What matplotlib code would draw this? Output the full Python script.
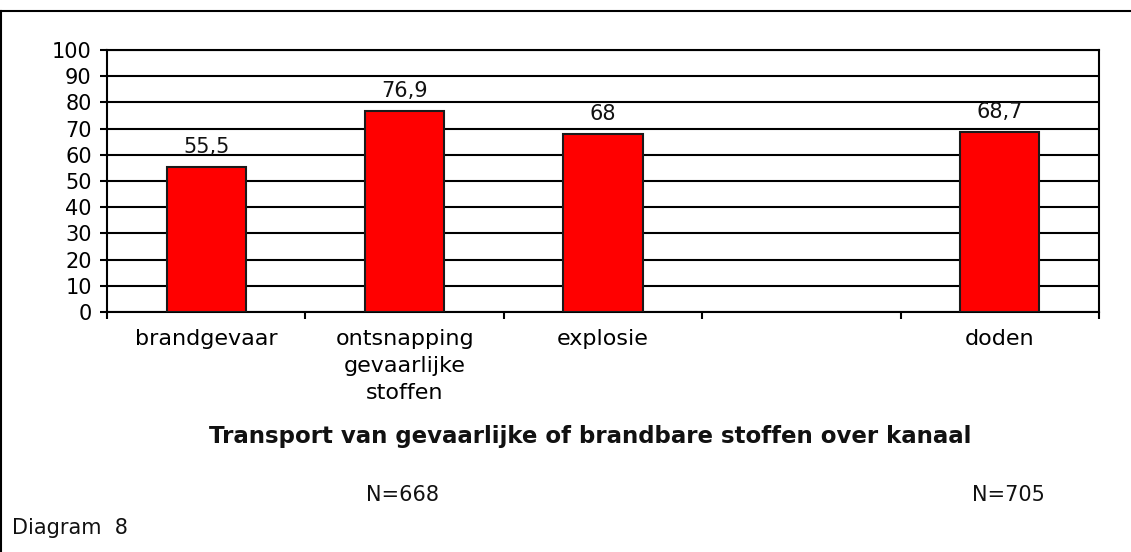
import numpy as np
import matplotlib.pyplot as plt
from matplotlib.lines import Line2D
from matplotlib.transforms import blended_transform_factory

categories = ["brandgevaar", "ontsnapping\ngevaarlijke\nstoffen", "explosie", "", "doden"]
values = [55.5, 76.9, 68.0, np.nan, 68.7]
n_labels = ["", "N=668", "", "", "N=705"]
yticks = list(range(0, 101, 10))
title = "Transport van gevaarlijke of brandbare stoffen over kanaal"
caption = "Diagram  8"

plt.rcParams["font.family"] = "DejaVu Sans"

fig = plt.figure(figsize=(11.31, 5.52), dpi=100)
ax = fig.add_axes([107 / 1131, 1 - 312 / 552, (1099 - 107) / 1131, (312 - 50) / 552])

x = np.arange(len(categories))
vals = np.array(values, dtype=float)
mask = ~np.isnan(vals)
ax.bar(x[mask], vals[mask], width=0.40, color="#ff0000", edgecolor="#1a1a1a",
       linewidth=1.5, zorder=3)

for xi, v in zip(x[mask], vals[mask]):
    lbl = f"{v:g}".replace(".", ",")
    ax.annotate(lbl, (xi, v), xytext=(0, 10), textcoords="offset points",
                ha="center", va="baseline", fontsize=15, color="#111111")

ax.set_xlim(-0.5, len(categories) - 0.5)
ax.set_ylim(0, 100)
ax.set_yticks(yticks)
ax.yaxis.grid(True, color="black", linewidth=1.5, zorder=0)
ax.set_axisbelow(True)

ax.set_xticks(x)
ax.set_xticklabels(categories, fontsize=16, linespacing=1.45)
ax.tick_params(axis="x", which="major", length=0, pad=12)
ax.set_xticks(np.arange(-0.5, len(categories)), minor=True)
ax.tick_params(axis="x", which="minor", length=5, width=1.5, direction="out")
ax.tick_params(axis="y", length=5, width=1.5, labelsize=15, pad=6)

for s in ["left", "bottom", "right", "top"]:
    ax.spines[s].set_linewidth(1.5)
    ax.spines[s].set_color("black")

# N labels under the categories (the last one sits a bit right of centre)
trans = blended_transform_factory(ax.transData, fig.transFigure)
for xi, n in zip(x, n_labels):
    if n:
        shift = 0.045 if xi == len(categories) - 1 else -0.01
        fig.text(xi + shift, 1 - 495 / 552, n, transform=trans, ha="center",
                 va="center", fontsize=15, color="#111111")

fig.text(590 / 1131, 1 - 437 / 552, title, ha="center", va="center",
         fontsize=16.5, fontweight="bold", color="#111111")
fig.text(12 / 1131, 1 - 528 / 552, caption, ha="left", va="center",
         fontsize=15, color="#111111")

# frame around the figure (top and left edges)
fig.add_artist(Line2D([0, 1], [1 - 11 / 552] * 2, color="black", linewidth=1.5,
                      transform=fig.transFigure))
fig.add_artist(Line2D([1 / 1131] * 2, [0, 1 - 11 / 552], color="black",
                      linewidth=1.5, transform=fig.transFigure))

fig.savefig("out.png", dpi=100)
